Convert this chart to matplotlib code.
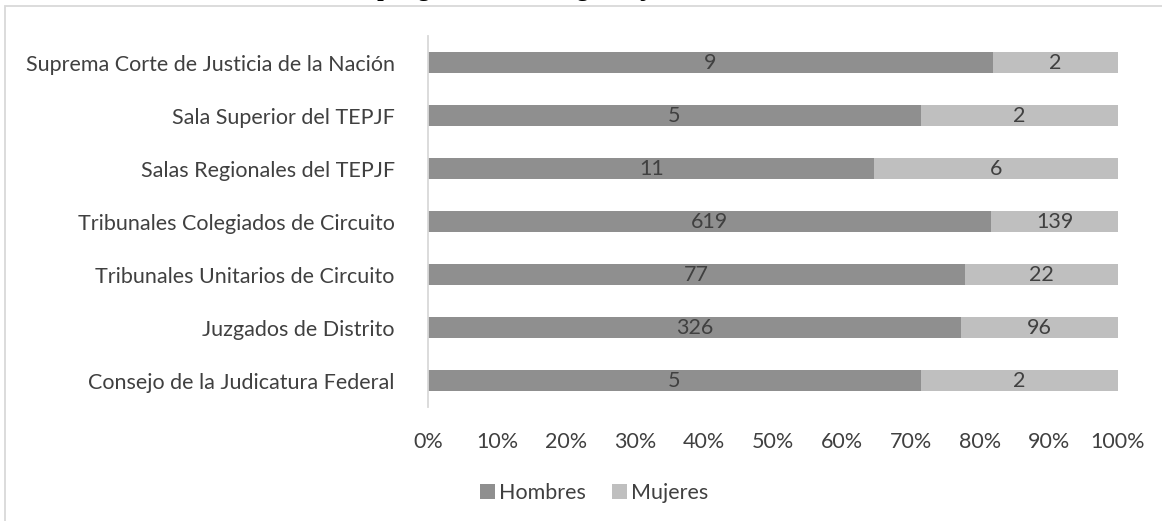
import matplotlib
matplotlib.use("Agg")
import matplotlib.pyplot as plt
from matplotlib.patches import Rectangle
import numpy as np

categories = [
    "Suprema Corte de Justicia de la Nación",
    "Sala Superior del TEPJF",
    "Salas Regionales del TEPJF",
    "Tribunales Colegiados de Circuito",
    "Tribunales Unitarios de Circuito",
    "Juzgados de Distrito",
    "Consejo de la Judicatura Federal",
]
hombres = [9, 5, 11, 619, 77, 326, 5]
mujeres = [2, 2, 6, 139, 22, 96, 2]
series_names = ["Hombres", "Mujeres"]
xtick_labels = ["0%", "10%", "20%", "30%", "40%", "50%", "60%", "70%", "80%", "90%", "100%"]
title = "Distribución por género de los órganos jurisdiccionales del Poder Judicial de la Federación, 2019"

plt.rcParams["font.family"] = ["Lato", "DejaVu Sans"]
W, H = 1162, 521
fig = plt.figure(figsize=(W / 100, H / 100), dpi=100)
fig.patch.set_facecolor("white")

# chart border
fig.patches.append(Rectangle((4.5 / W, -0.05), 1.2, 1 - 6.5 / H + 0.05, transform=fig.transFigure,
                             fill=False, edgecolor="#d9d9d9", linewidth=1.3))

ax = fig.add_axes([428 / W, 1 - 407 / H, (1118 - 428) / W, (407 - 36) / H])

h = np.array(hombres, dtype=float)
m = np.array(mujeres, dtype=float)
tot = h + m
hp = h / tot
mp = m / tot
y = np.arange(len(categories))

c_h = "#8f8f8f"
c_m = "#bfbfbf"
ax.barh(y, hp, height=0.395, color=c_h, label=series_names[0])
ax.barh(y, mp, left=hp, height=0.395, color=c_m, label=series_names[1])

fs = 15.5
for i in range(len(categories)):
    ax.text(hp[i] / 2, y[i], str(hombres[i]), ha="center", va="center", fontsize=fs, color="#404040")
    ax.text(hp[i] + mp[i] / 2, y[i], str(mujeres[i]), ha="center", va="center", fontsize=fs, color="#404040")

ax.set_ylim(len(categories) - 0.5, -0.5)
ax.set_xlim(0, 1)
ax.set_yticks(y)
ax.set_yticklabels(categories, fontsize=fs, color="#404040")
ax.set_xticks(np.linspace(0, 1, 11))
ax.set_xticklabels(xtick_labels, fontsize=fs, color="#404040")
ax.tick_params(axis="y", length=0, pad=24)
ax.tick_params(axis="x", length=0, pad=18)
for s in ["top", "right", "bottom"]:
    ax.spines[s].set_visible(False)
ax.spines["left"].set_color("#d9d9d9")
ax.spines["left"].set_linewidth(1.3)

fig.legend(loc="center", bbox_to_anchor=(594 / W, 1 - 493 / H), ncol=2, frameon=False,
           fontsize=fs, handlelength=0.7, handleheight=0.7, handletextpad=0.2,
           columnspacing=1.2, labelcolor="#404040")

fig.text(0.63, 1 + 4 / H, title, ha="center", va="baseline", fontsize=17,
         fontweight="bold", family=["Liberation Serif"], color="black")

fig.savefig("out.png", dpi=100)
